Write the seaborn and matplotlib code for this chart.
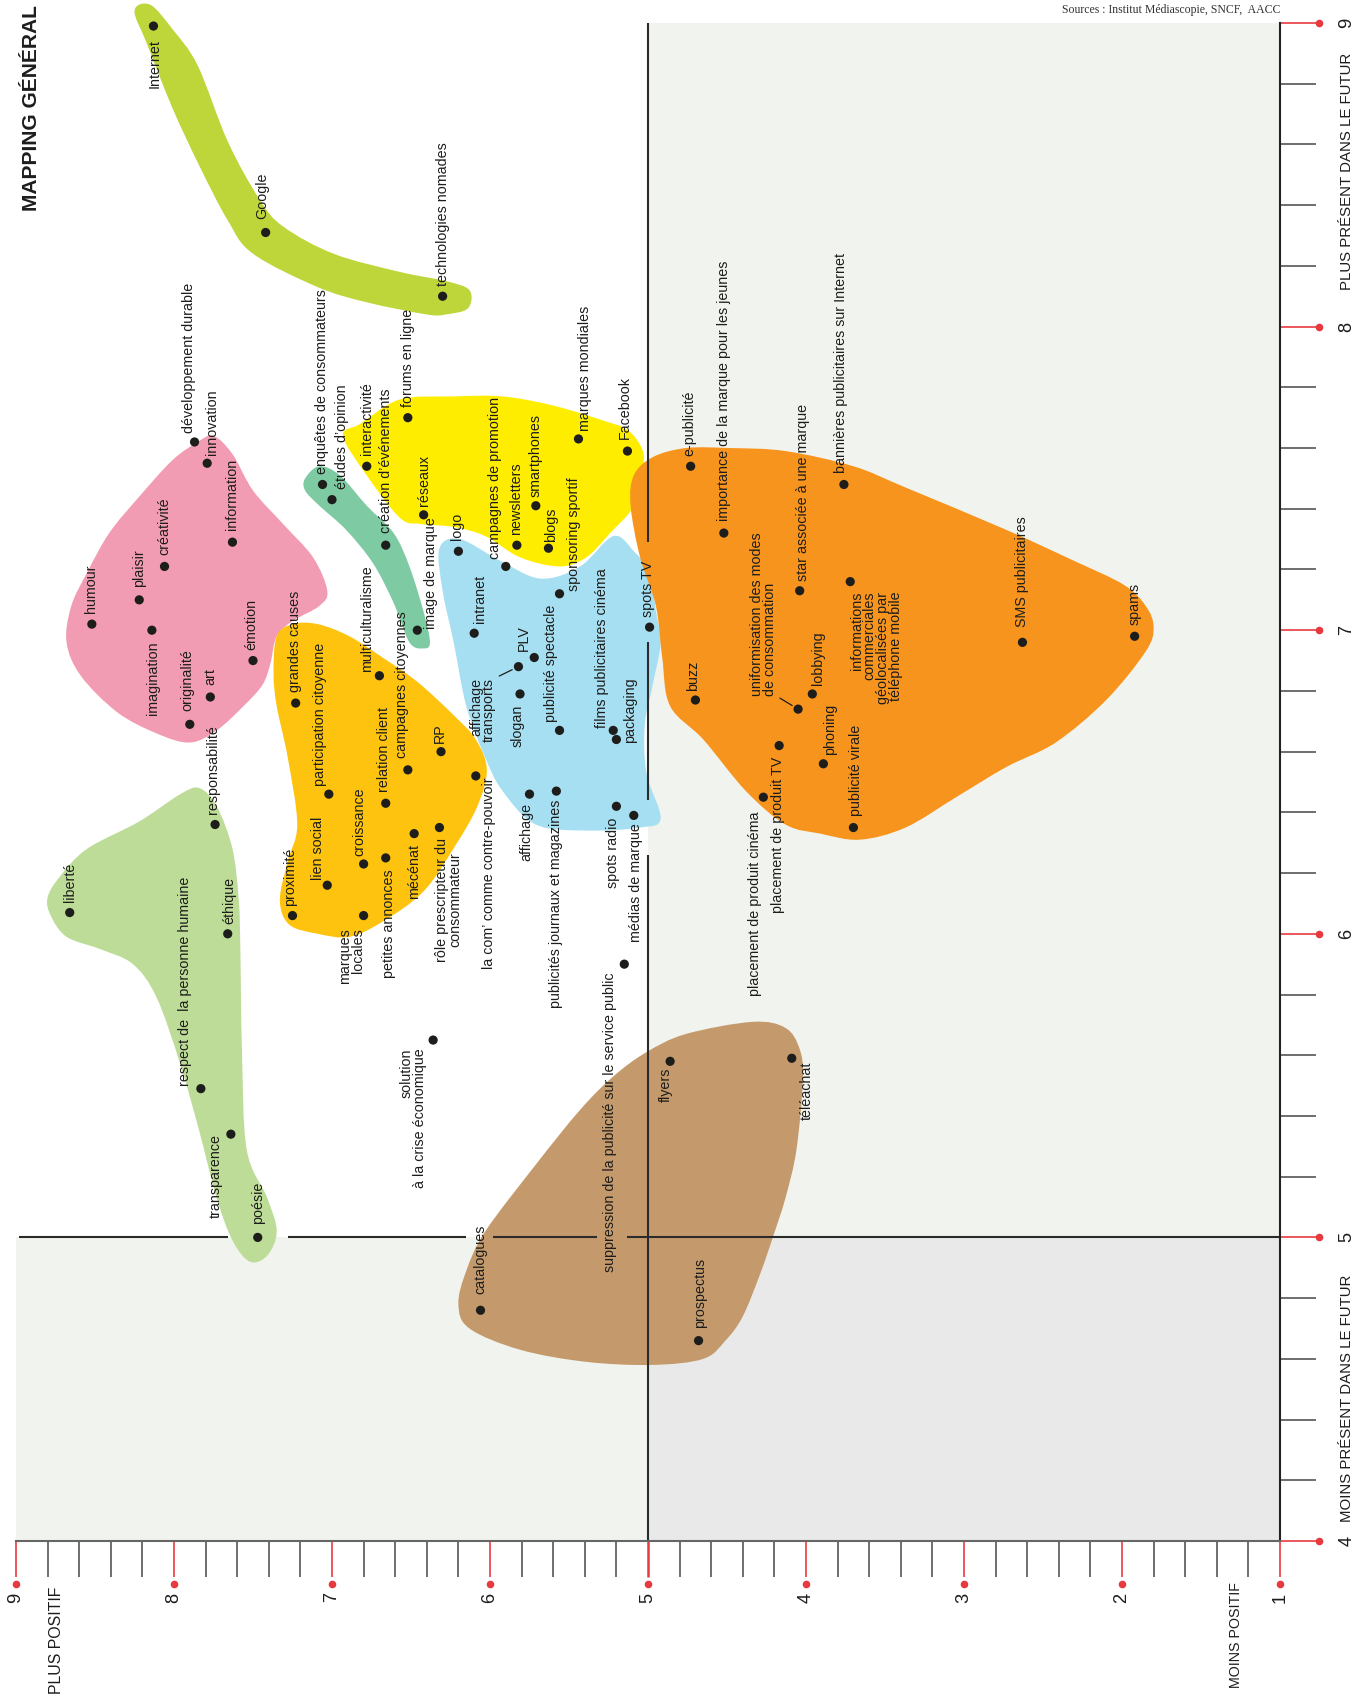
import matplotlib
matplotlib.use('Agg')
import numpy as np
import pandas as pd
import matplotlib.pyplot as plt
import seaborn as sns
from matplotlib import transforms, font_manager
from matplotlib.path import Path
from matplotlib.patches import PathPatch
from matplotlib.ticker import FixedLocator, MultipleLocator

# --- data: label, "positif" score, "présent dans le futur" score
labels = [
    "Internet", "Google", "technologies nomades", "forums en ligne",
    "développement durable", "innovation", "information", "créativité", "plaisir",
    "humour", "imagination", "émotion", "art", "originalité", "responsabilité",
    "grandes causes", "participation citoyenne", "multiculturalisme", "relation client",
    "campagnes citoyennes", "RP",
    "enquêtes de consommateurs", "études d’opinion", "interactivité",
    "création d’événements", "réseaux", "image de marque",
    "mécénat", "rôle prescripteur du\nconsommateur",
    "liberté", "éthique", "respect de  la personne humaine", "transparence", "poésie",
    "proximité", "lien social", "croissance", "marques\nlocales", "petites annonces",
    "solution\nà la crise économique",
    "logo", "campagnes de promotion", "newsletters", "smartphones", "blogs",
    "sponsoring sportif", "marques mondiales", "Facebook",
    "intranet", "affichage\ntransports", "PLV", "slogan", "publicité spectacle",
    "films publicitaires cinéma", "packaging", "spots TV",
    "spots radio", "médias de marque", "la com’ comme contre-pouvoir", "affichage",
    "publicités journaux et magazines",
    "suppression de la publicité sur le service public", "flyers", "téléachat",
    "catalogues", "prospectus",
    "placement de produit cinéma", "placement de produit TV", "buzz",
    "uniformisation des modes\nde consommation", "lobbying",
    "star associée à une marque", "phoning", "publicité virale", "e-publicité",
    "importance de la marque pour les jeunes",
    "bannières publicitaires sur Internet",
    "informations\ncommerciales\ngéolocalisées par\ntéléphone mobile",
    "SMS publicitaires", "spams",
]
positif = [8.13, 7.42, 6.30, 6.52,
           7.87, 7.79, 7.63, 8.06, 8.22, 8.52, 8.14, 7.50, 7.77, 7.90, 7.74,
           7.23, 7.02, 6.70, 6.66, 6.52, 6.31,
           7.06, 7.00, 6.78, 6.66, 6.42, 6.46,
           6.48, 6.32,
           8.66, 7.66, 7.83, 7.64, 7.47,
           7.25, 7.03, 6.80, 6.80, 6.66, 6.36,
           6.20, 5.90, 5.83, 5.71, 5.63, 5.56, 5.44, 5.13,
           6.10, 5.82, 5.72, 5.81, 5.56, 5.22, 5.20, 4.99,
           5.20, 5.09, 6.09, 5.75, 5.58,
           5.15, 4.86, 4.09, 6.06, 4.68,
           4.27, 4.17, 4.70, 4.05, 3.96,
           4.04, 3.89, 3.70, 4.73, 4.52,
           3.76, 3.72, 2.63, 1.92]
futur = [8.99, 8.31, 8.10, 7.70,
         7.62, 7.55, 7.29, 7.21, 7.10, 7.02, 7.00, 6.90, 6.78, 6.69, 6.36,
         6.76, 6.46, 6.85, 6.43, 6.54, 6.60,
         7.48, 7.43, 7.54, 7.28, 7.38, 7.00,
         6.33, 6.35,
         6.07, 6.00, 5.49, 5.34, 5.00,
         6.06, 6.16, 6.23, 6.06, 6.25, 5.65,
         7.26, 7.21, 7.28, 7.41, 7.27, 7.12, 7.63, 7.59,
         6.99, 6.88, 6.91, 6.79, 6.67, 6.67, 6.64, 7.01,
         6.42, 6.39, 6.52, 6.46, 6.47,
         5.90, 5.58, 5.59, 4.76, 4.66,
         6.45, 6.62, 6.77, 6.74, 6.79,
         7.13, 6.56, 6.35, 7.54, 7.32,
         7.48, 7.16, 6.96, 6.98]

blob_internet = [(8.25, 9.04), (8.15, 9.06), (8.01, 8.98), (7.85, 8.86), (7.66, 8.61),
                 (7.46, 8.42), (7.31, 8.33), (6.99, 8.24), (6.57, 8.18), (6.28, 8.15),
                 (6.13, 8.12), (6.14, 8.06), (6.28, 8.04), (6.40, 8.04), (6.78, 8.08),
                 (7.09, 8.13), (7.50, 8.24), (7.66, 8.35), (7.84, 8.53), (8.01, 8.72),
                 (8.17, 8.93)]
blob_valeurs = [(7.75, 7.64), (7.63, 7.58), (7.50, 7.46), (7.31, 7.35), (7.12, 7.24),
                (7.03, 7.13), (7.08, 7.08), (7.25, 7.03), (7.35, 6.98), (7.39, 6.89),
                (7.44, 6.82), (7.56, 6.75), (7.73, 6.67), (7.90, 6.63), (8.11, 6.66),
                (8.36, 6.73), (8.59, 6.85), (8.68, 6.96), (8.65, 7.08), (8.55, 7.19),
                (8.41, 7.32), (8.22, 7.44), (8.01, 7.56), (7.85, 7.62)]
blob_etudes = [(7.17, 7.50), (7.08, 7.54), (6.95, 7.51), (6.78, 7.41), (6.61, 7.32),
               (6.51, 7.21), (6.42, 7.06), (6.38, 6.96), (6.42, 6.94), (6.51, 6.96),
               (6.61, 7.09), (6.74, 7.22), (6.91, 7.33), (7.08, 7.41), (7.17, 7.46)]
blob_web = [(6.93, 7.64), (6.82, 7.68), (6.57, 7.76), (6.23, 7.77), (5.92, 7.77),
            (5.60, 7.74), (5.28, 7.69), (5.13, 7.66), (5.04, 7.60), (5.03, 7.54),
            (5.09, 7.41), (5.24, 7.32), (5.39, 7.24), (5.56, 7.21), (5.81, 7.24),
            (6.03, 7.31), (6.23, 7.34), (6.44, 7.35), (6.57, 7.37), (6.78, 7.51)]
blob_medias = [(6.32, 7.27), (6.19, 7.30), (5.94, 7.23), (5.68, 7.17), (5.43, 7.21),
               (5.22, 7.31), (5.09, 7.26), (4.99, 7.19), (4.95, 7.06), (4.92, 6.96),
               (4.97, 6.82), (5.02, 6.69), (5.01, 6.53), (4.92, 6.38), (5.05, 6.35),
               (5.39, 6.34), (5.71, 6.36), (5.92, 6.47), (6.03, 6.58), (6.15, 6.75),
               (6.23, 6.96), (6.30, 7.13)]
blob_citoyen = [(7.35, 6.98), (7.25, 7.02), (7.09, 7.02), (6.89, 6.98), (6.68, 6.91),
                (6.46, 6.83), (6.23, 6.72), (6.09, 6.64), (6.02, 6.54), (6.08, 6.42),
                (6.22, 6.29), (6.42, 6.14), (6.68, 6.04), (6.89, 5.99), (7.09, 6.00),
                (7.27, 6.03), (7.33, 6.11), (7.28, 6.24), (7.22, 6.36), (7.28, 6.58),
                (7.35, 6.75), (7.37, 6.86)]
blob_ethique = [(7.84, 6.48), (7.73, 6.42), (7.63, 6.28), (7.59, 6.11), (7.58, 5.95),
                (7.57, 5.62), (7.54, 5.29), (7.41, 5.13), (7.35, 5.02), (7.41, 4.94),
                (7.52, 4.92), (7.63, 4.99), (7.73, 5.13), (7.84, 5.35), (7.96, 5.57),
                (8.11, 5.79), (8.26, 5.90), (8.47, 5.95), (8.68, 5.99), (8.78, 6.06),
                (8.80, 6.12), (8.72, 6.19), (8.55, 6.28), (8.22, 6.37), (7.96, 6.46)]
blob_mobile = [(5.09, 7.51), (4.97, 7.57), (4.76, 7.60), (4.48, 7.60), (4.13, 7.59),
               (3.70, 7.54), (3.37, 7.47), (2.73, 7.33), (2.31, 7.23), (1.99, 7.15),
               (1.85, 7.08), (1.80, 7.01), (1.85, 6.93), (2.10, 6.77), (2.42, 6.63),
               (2.73, 6.55), (3.05, 6.45), (3.37, 6.35), (3.66, 6.31), (3.91, 6.33),
               (4.13, 6.36), (4.38, 6.47), (4.65, 6.64), (4.86, 6.75), (4.91, 6.91),
               (4.95, 7.08), (5.05, 7.24), (5.11, 7.41)]
blob_papier = [(6.15, 4.89), (6.03, 5.02), (5.71, 5.24), (5.43, 5.42), (5.22, 5.53),
               (5.01, 5.61), (4.76, 5.67), (4.34, 5.71), (4.13, 5.69), (4.04, 5.62),
               (4.02, 5.52), (4.06, 5.29), (4.13, 5.13), (4.21, 5.00), (4.29, 4.88),
               (4.40, 4.74), (4.51, 4.66), (4.65, 4.60), (4.97, 4.58), (5.39, 4.59),
               (5.81, 4.63), (6.13, 4.70), (6.20, 4.78)]

# --- label placement: (ha along the text, dx px, dy px downward)
label_pos = [
    ('right', 1, 13), ('left', -3, -13), ('left', 0, -10), ('left', 0, -11),
    ('left', -6, -9), ('left', 5, -8), ('left', 0, -12), ('left', 0, -11), ('left', 0, -13),
    ('left', -1, -11), ('right', 1, 11), ('left', -2, -11), ('left', 0, -12),
    ('left', -2, -13), ('left', -2, -11),
    ('left', -1, -11), ('left', -9, -8), ('left', -12, -4), ('left', -2, -11),
    ('left', -6, -12), ('left', -1, -9),
    ('left', -1, -10), ('left', 10, -11), ('left', 0, -11), ('left', 0, -12),
    ('left', 0, -9), ('left', 14, -1),
    ('right', 0, 10), ('right', 9, 10),
    ('left', 0, -11), ('left', 2, -10), ('left', -16, -3), ('right', -15, 0), ('left', 0, -13),
    ('left', -2, -10), ('left', -9, -5), ('left', -4, -8), ('right', -12, 13),
    ('right', 3, 11), ('right', -20, 8),
    ('left', -1, -11), ('left', -11, -7), ('left', -1, -10), ('left', 0, -9),
    ('left', 3, -6), ('left', 14, -3), ('left', 7, -8), ('left', -3, -12),
    ('left', 6, -10), ('right', -36, 11), ('left', -10, -7), ('right', -2, 11),
    ('left', -9, -8), ('left', -11, -2), ('left', 14, 4), ('left', -2, -10),
    ('right', -3, 11), ('right', 2, 8), ('right', 13, 1), ('right', -3, 9), ('right', 0, 9),
    ('right', -14, 8), ('right', -4, 6), ('right', 15, 3), ('left', 0, -16), ('left', 1, -13),
    ('right', -8, 14), ('right', -1, 11), ('left', -2, -9), ('left', -35, -13), ('left', 6, -9),
    ('left', 3, -10), ('left', 7, -9), ('left', 3, -12), ('left', -1, -10), ('left', 0, -12),
    ('left', -3, -11), ('right', 26, 10), ('left', 0, -15), ('left', 0, -11),
]
multi_align = {28: 'center', 37: 'right', 39: 'right', 49: 'right', 69: 'left', 77: 'right'}
leaders = {49: (1, 1), 69: (1, 0)}

df = pd.DataFrame({'label': labels, 'positif': positif, 'futur': futur})

sns.set_style('white')
installed = {f.name for f in font_manager.fontManager.ttflist}
if 'Liberation Sans Narrow' in installed:
    FAM, K = 'Liberation Sans Narrow', 1.0
else:
    FAM, K = 'Liberation Sans', 0.82
plt.rcParams['font.family'] = [FAM, 'DejaVu Sans']

INK = '#1d1d1b'
RED = '#e63a3f'
LINE = '#2b2b2b'
W, H = 1359, 1696
fig = plt.figure(figsize=(W / 100, H / 100), dpi=100)
ax = fig.add_axes([16 / W, 1 - 1541 / H, 1264 / W, 1518 / H])
ax.set_facecolor('white')

# quadrant backgrounds
ax.fill_between([5, 1], 5, 9, color='#f1f4ee', lw=0, zorder=0)
ax.fill_between([9, 5], 4, 5, color='#f1f4ee', lw=0, zorder=0)
ax.fill_between([5, 1], 4, 5, color='#e9e9e9', lw=0, zorder=0)


def blob(points, color):
    pts = np.array(points, dtype=float)
    n = len(pts)
    verts, codes = [pts[0]], [Path.MOVETO]
    for i in range(n):
        p0, p1, p2, p3 = pts[i - 1], pts[i], pts[(i + 1) % n], pts[(i + 2) % n]
        verts += [p1 + (p2 - p0) / 6, p2 - (p3 - p1) / 6, p2]
        codes += [Path.CURVE4] * 3
    ax.add_patch(PathPatch(Path(verts, codes), facecolor=color, edgecolor='none',
                           zorder=1, clip_on=False))


blob(blob_internet, '#bed63a')
blob(blob_valeurs, '#f29cb3')
blob(blob_etudes, '#7ecaa3')
blob(blob_web, '#ffed00')
blob(blob_medias, '#a7dff2')
blob(blob_citoyen, '#fdc30f')
blob(blob_ethique, '#bddc98')
blob(blob_mobile, '#f7941e')
blob(blob_papier, '#c49a6c')

# the two midlines, broken where labels cross them
ax.vlines([5, 5, 5], [7.29, 6.44, 4.0], [9.0, 6.96, 6.26], color=LINE, lw=1.5, zorder=2)
ax.hlines([5, 5, 5, 5], [7.66, 6.15, 5.32, 1.0], [8.98, 7.28, 5.98, 5.13],
          color=LINE, lw=1.5, zorder=2)

sns.scatterplot(data=df, x='positif', y='futur', color=INK, s=44, edgecolor='none',
                legend=False, ax=ax, zorder=3, clip_on=False)

for i, (txt, p, f) in enumerate(zip(labels, positif, futur)):
    ha, dx, dy = label_pos[i]
    kw = {}
    if i in leaders:
        kw['arrowprops'] = dict(arrowstyle='-', color=INK, lw=0.9, shrinkA=0, shrinkB=5,
                                relpos=leaders[i])
    ax.annotate(txt, xy=(p, f), xytext=(dx, -dy), textcoords='offset pixels',
                rotation=90, rotation_mode='anchor', ha=ha, va='center',
                multialignment=multi_align.get(i, 'left'), linespacing=0.92,
                fontsize=12.5 * K, color=INK, zorder=4, annotation_clip=False, **kw)

# axes
ax.set_xlim(9, 1)
ax.set_ylim(4, 9)
ax.set_xlabel('')
ax.set_ylabel('')
ax.xaxis.set_major_locator(FixedLocator(range(1, 10)))
ax.xaxis.set_minor_locator(MultipleLocator(0.2))
ax.yaxis.set_major_locator(FixedLocator(range(4, 10)))
ax.yaxis.set_minor_locator(MultipleLocator(0.2))
ax.yaxis.tick_right()
ax.tick_params(axis='x', which='both', bottom=True, top=False)
ax.tick_params(axis='y', which='both', right=True, left=False)
ax.tick_params(which='both', direction='out', length=26, width=1.2)
ax.tick_params(which='major', color=RED, labelsize=16 * K, labelcolor=INK, labelrotation=90)
ax.tick_params(which='minor', color='#555555')
ax.tick_params(axis='x', which='major', pad=11)
ax.tick_params(axis='y', which='major', pad=16)
for lbl in ax.get_yticklabels():
    lbl.set_va('center')
# the vertical midline carries on through the "5" tick
mid_tick = ax.xaxis.get_major_ticks()[4].tick1line
mid_tick.set_color(LINE)
mid_tick.set_markeredgewidth(1.8)
for side in ['left', 'top']:
    ax.spines[side].set_visible(False)
ax.spines['bottom'].set_color('#666666')
ax.spines['bottom'].set_linewidth(1.5)
ax.spines['right'].set_color('#222222')
ax.spines['right'].set_linewidth(1.5)

tx = transforms.blended_transform_factory(ax.transData, ax.transAxes)
ax.scatter(range(1, 10), [-43 / 1518] * 9, transform=tx, s=20, color=RED, clip_on=False, zorder=5)
ty = transforms.blended_transform_factory(ax.transAxes, ax.transData)
ax.scatter([1 + 39 / 1264] * 6, range(4, 10), transform=ty, s=20, color=RED, clip_on=False, zorder=5)

# titles and axis captions
fig.text(32 / W, 1 - 5 / H, 'MAPPING GÉNÉRAL', rotation=90, rotation_mode='anchor',
         ha='right', va='center', fontsize=18.5 * K, fontweight='bold', color=INK)
fig.text(1280 / W, 1 - 10 / H, 'Sources : Institut Médiascopie, SNCF,  AACC',
         ha='right', va='center', fontsize=8.5, color='#333333',
         family=['Liberation Serif', 'DejaVu Serif'])
fig.text(57 / W, 1 - 1587 / H, 'PLUS POSITIF', rotation=90, rotation_mode='anchor',
         ha='right', va='center', fontsize=14 * K, color=INK)
fig.text(1236 / W, 1 - 1582 / H, 'MOINS POSITIF', rotation=90, rotation_mode='anchor',
         ha='right', va='center', fontsize=12.5 * K, color=INK)
fig.text(1347 / W, 1 - 290 / H, 'PLUS PRÉSENT DANS LE FUTUR', rotation=90,
         rotation_mode='anchor', ha='left', va='center', fontsize=13.2 * K, color=INK)
fig.text(1347 / W, 1 - 1522 / H, 'MOINS PRÉSENT DANS LE FUTUR', rotation=90,
         rotation_mode='anchor', ha='left', va='center', fontsize=13.2 * K, color=INK)

fig.savefig('out.png', dpi=100)
